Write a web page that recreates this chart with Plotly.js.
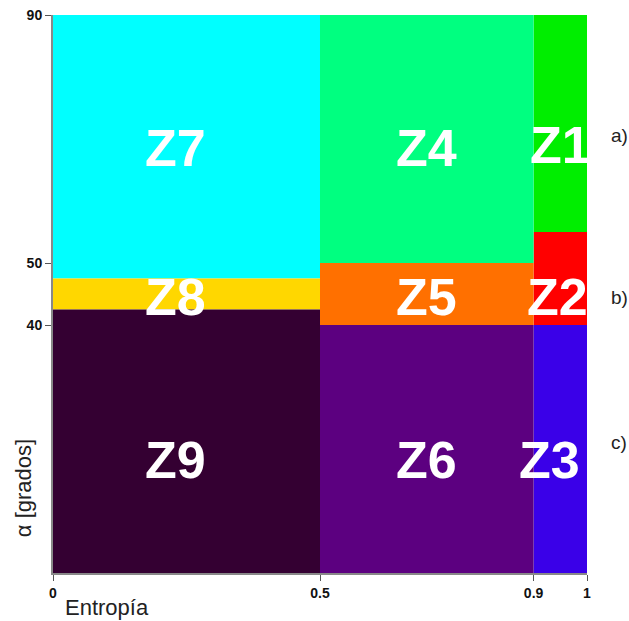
<!DOCTYPE html>
<html>
<head>
<meta charset="utf-8">
<script src="https://cdn.plot.ly/plotly-3.0.1.min.js"></script>
<style>html,body{margin:0;padding:0;background:#fff;}</style>
</head>
<body>
<div id="plot" style="width:629px;height:621px;"></div>
<script>
// H / alpha classification plane: zone boundaries (entropy, alpha in degrees)
const zoneNames = ["Z1", "Z2", "Z3", "Z4", "Z5", "Z6", "Z7", "Z8", "Z9"];
const hMin      = [0.9, 0.9, 0.9, 0.5, 0.5, 0.5, 0.0, 0.0, 0.0];
const hMax      = [1.0, 1.0, 1.0, 0.9, 0.9, 0.9, 0.5, 0.5, 0.5];
const aMin      = [55, 40, 0, 50, 40, 0, 47.5, 42.5, 0];
const aMax      = [90, 55, 40, 90, 50, 40, 90, 47.5, 42.5];
const zoneColors = ["#00ee00", "#ff0000", "#3a00e8", "#00ff80", "#ff7000",
                    "#5c0080", "#00ffff", "#ffd700", "#340032"];

// label anchor inside each zone
const labelH = [0.95, 0.945, 0.93, 0.70, 0.70, 0.70, 0.23, 0.23, 0.23];
const labelA = [69, 44.5, 18.2, 68.5, 44.5, 18.2, 68.5, 44.5, 18.2];

// row captions on the right
const rowNames = ["a)", "b)", "c)"];
const rowA = [70.5, 44.5, 21];

const xTicks = [0, 0.5, 0.9, 1];
const xTickText = ["0", "0.5", "0.9", "1"];
const yTicks = [40, 50, 90];

const traces = zoneNames.map((name, i) => ({
  type: "scatter",
  mode: "none",
  x: [hMin[i], hMax[i], hMax[i], hMin[i], hMin[i]],
  y: [aMin[i], aMin[i], aMax[i], aMax[i], aMin[i]],
  fill: "toself",
  fillcolor: zoneColors[i],
  hoverinfo: "skip",
  name: name,
  showlegend: false
}));

const annotations = zoneNames.map((name, i) => ({
  x: labelH[i], y: labelA[i], xref: "x", yref: "y",
  text: name, showarrow: false,
  font: {family: "Liberation Sans, Arial, sans-serif", size: 52, color: "#ffffff", weight: "bold"}
}));

rowNames.forEach((t, i) => annotations.push({
  x: 1.0, y: rowA[i], xref: "paper", yref: "y",
  xanchor: "left", xshift: 22,
  text: t, showarrow: false,
  font: {family: "Liberation Sans, Arial, sans-serif", size: 19, color: "#222"}
}));

// axis titles placed off-centre
annotations.push({
  x: 0.018, y: 0, xref: "paper", yref: "paper", yshift: -34,
  xanchor: "left", yanchor: "middle",
  text: "Entropía", showarrow: false,
  font: {family: "Liberation Sans, Arial, sans-serif", size: 22, color: "#222"}
});
annotations.push({
  x: 0, y: 0.152, xref: "paper", yref: "paper", xshift: -30,
  textangle: -90, xanchor: "center", yanchor: "middle",
  text: "α [grados]", showarrow: false,
  font: {family: "Liberation Sans, Arial, sans-serif", size: 22, color: "#222"}
});

const axisCommon = {
  showgrid: false, zeroline: false,
  showline: true, linecolor: "#888", linewidth: 2,
  ticks: "outside", ticklen: 6, tickcolor: "#555", tickwidth: 1,
  tickfont: {family: "Liberation Sans, Arial, sans-serif", size: 14, color: "#111", weight: "bold"},
  fixedrange: true
};

const layout = {
  width: 629, height: 621,
  margin: {l: 53, r: 42, t: 15, b: 48},
  paper_bgcolor: "#ffffff", plot_bgcolor: "#ffffff",
  xaxis: Object.assign({}, axisCommon, {
    range: [0, 1], tickmode: "array", tickvals: xTicks, ticktext: xTickText
  }),
  yaxis: Object.assign({}, axisCommon, {
    range: [0, 90], tickmode: "array", tickvals: yTicks
  }),
  annotations: annotations
};

Plotly.newPlot("plot", traces, layout, {displayModeBar: false, staticPlot: true});
</script>
</body>
</html>
